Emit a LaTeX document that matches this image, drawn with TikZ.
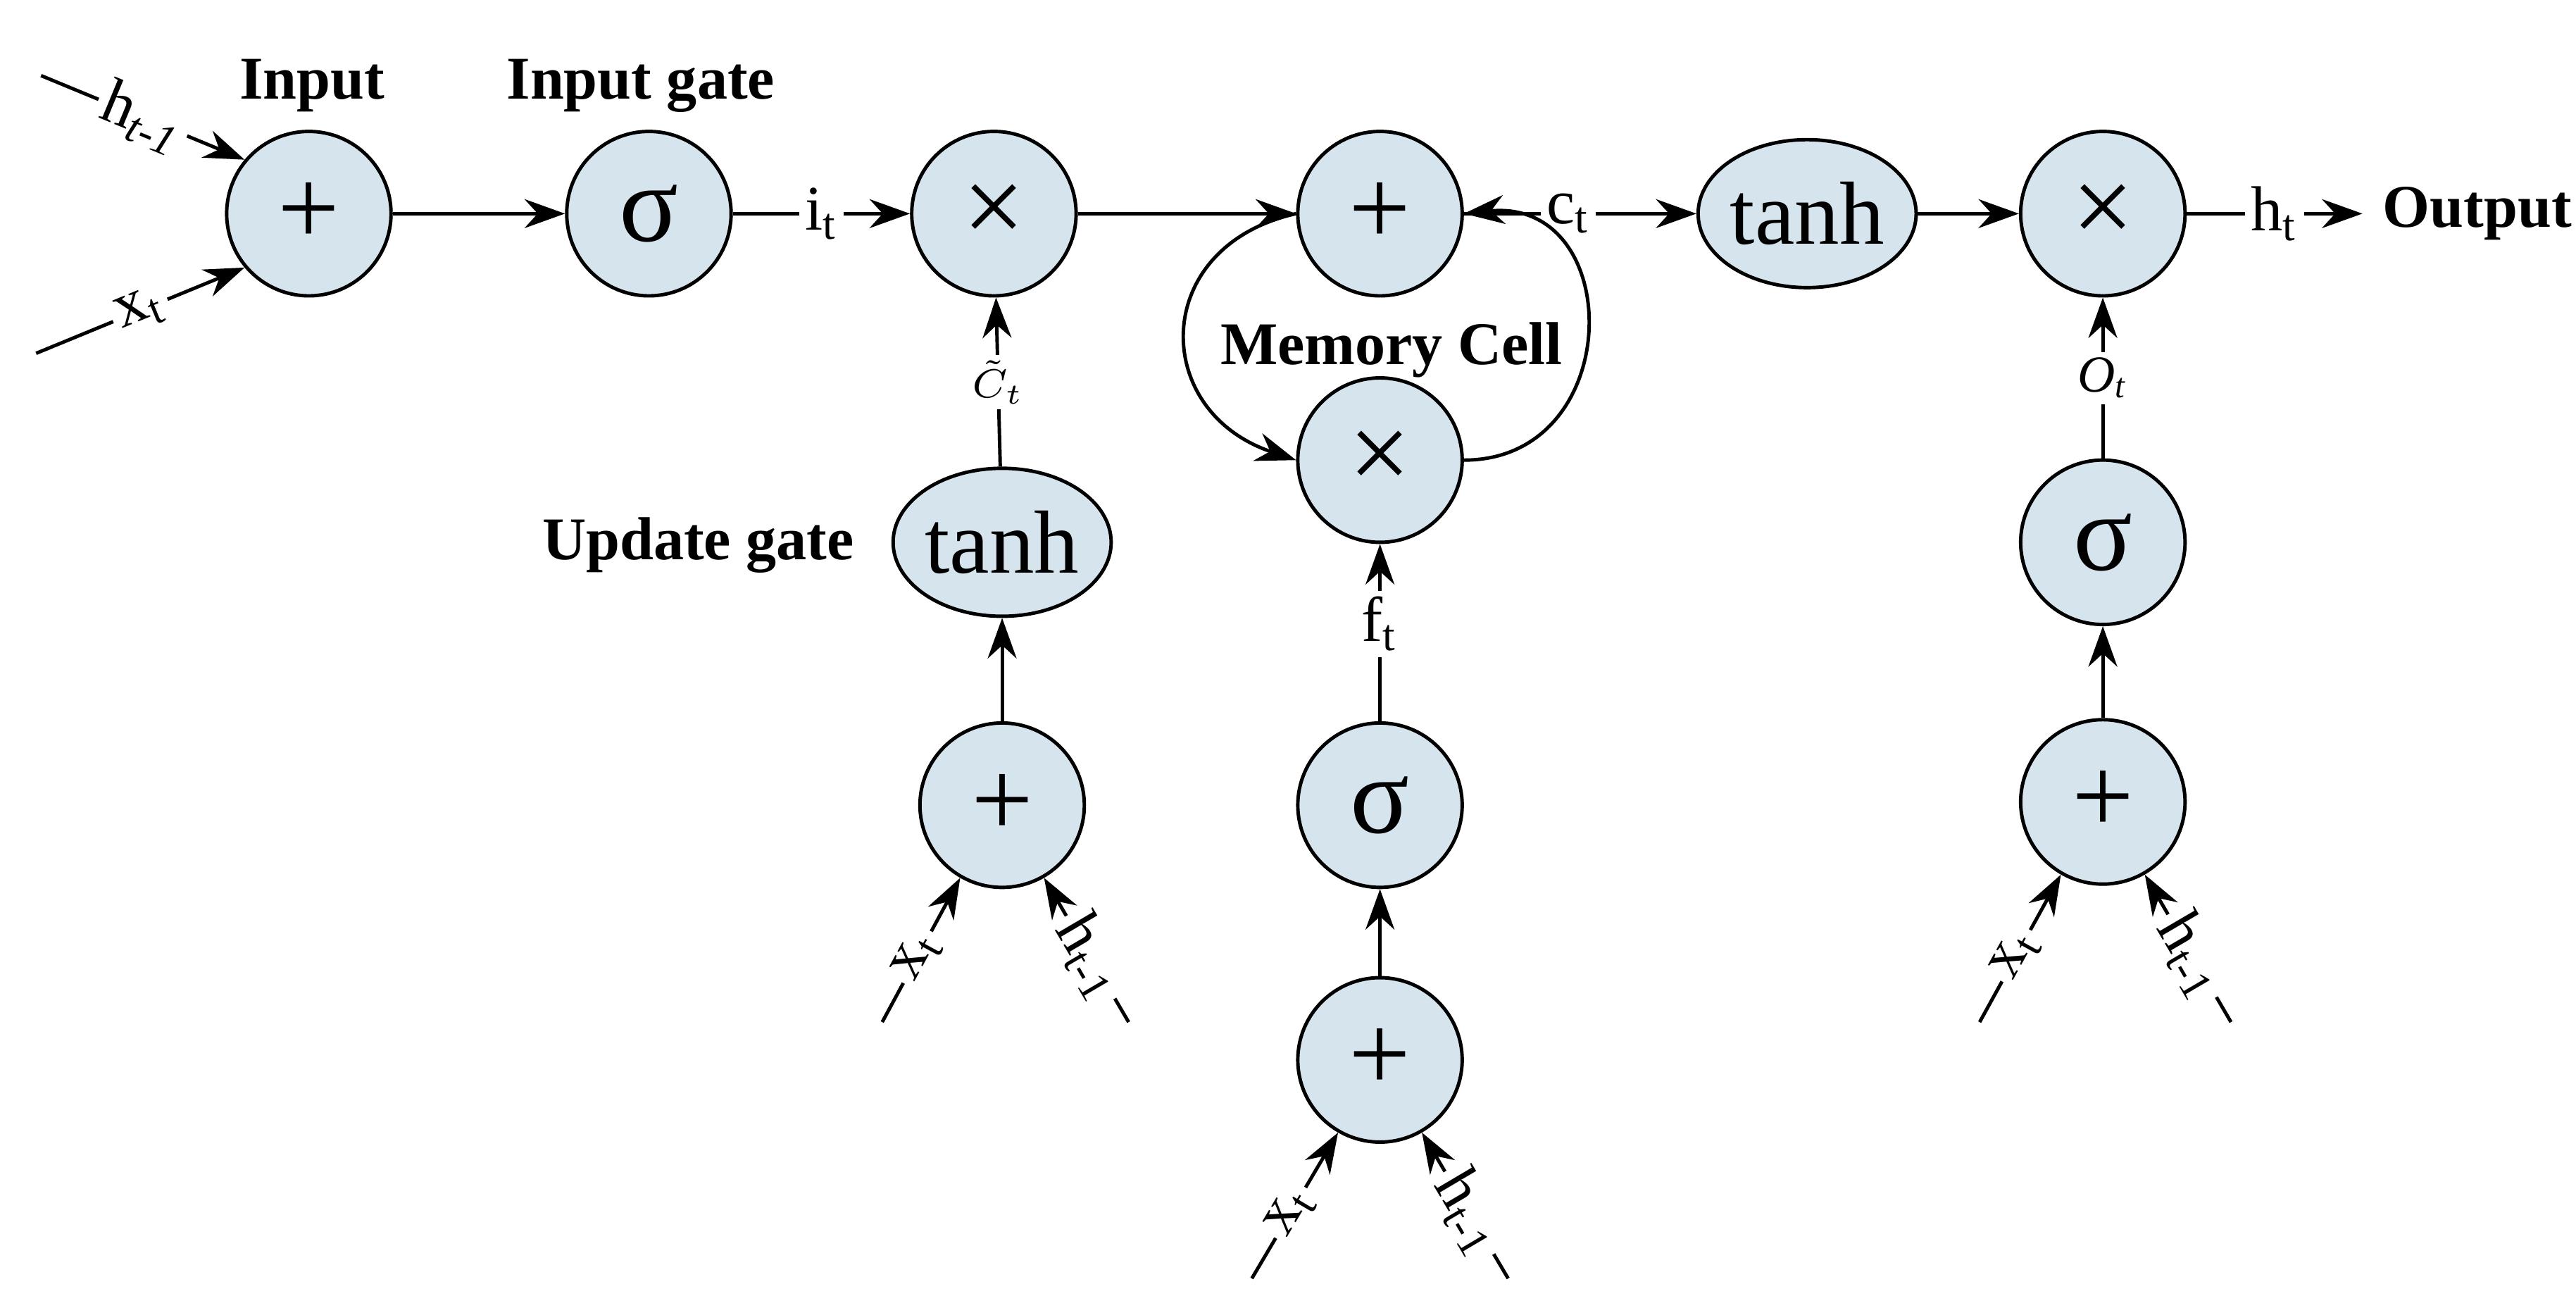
\documentclass[tikz,border=0pt]{standalone}
\usepackage{fontspec}
\setmainfont{Liberation Serif}
\usetikzlibrary{arrows.meta,shapes.geometric}
\begin{document}
\begin{tikzpicture}[x=0.01cm,y=-0.01cm,
  op/.style={circle,draw,fill=cellblue,minimum size=1cm,inner sep=0pt,font=\fontsize{19}{19}\selectfont,line width=0.6pt},
  el/.style={ellipse,draw,fill=cellblue,minimum width=1.26cm,minimum height=0.9cm,inner sep=0pt,font=\fontsize{15.5}{15.5}\selectfont,line width=0.6pt},
  ar/.style={-{Stealth[length=7pt,width=5pt]},line width=0.6pt},
  lab/.style={fill=white,inner sep=1pt,font=\fontsize{11}{11}\selectfont},
  ttl/.style={font=\fontsize{10.5}{10.5}\selectfont\bfseries}]
\definecolor{cellblue}{HTML}{D6E4EE}
\useasboundingbox (0,0) rectangle (1568,796);
% nodes
\node[op] (a1) at (188,130) {+};
\node[op] (ig) at (395,130) {σ};
\node[op] (m1) at (605,130) {×};
\node[op] (p2) at (840,130) {+};
\node[op] (m2) at (840,280) {×};
\node[el] (t1) at (1100,130) {tanh};
\node[op] (m3) at (1280,130) {×};
\node[el] (t2) at (610,330) {tanh};
\node[op] (a2) at (610,490) {+};
\node[op] (fg) at (840,490) {σ};
\node[op] (a3) at (840,645) {+};
\node[op] (og) at (1280,330) {σ};
\node[op] (a4) at (1280,488) {+};
% titles
\node[ttl] (tin) at (190,52) {Input};
\node[ttl] (tig) at (390,52) {Input gate};
\node[ttl] (tug) at (425,332) {Update gate};
\node[ttl] (tmc) at (847,213) {Memory Cell};
\node[ttl,anchor=west] (tout) at (1438,130) {Output};
% inputs of a1
\coordinate (h1) at (25,46);
\coordinate (x1) at (22,215);
\draw[ar] (h1) -- node[lab,sloped] {h\textsubscript{\textit{t-1}}} (a1.140);
\draw[ar] (x1) -- node[lab,sloped] {x\textsubscript{t}} (a1.220);
% bottom inputs
\foreach \n/\xs/\ys/\hs in {a2/537/622/687, a4/1205/622/1358}{
  \coordinate (xx\n) at (\xs,\ys);
  \coordinate (hh\n) at (\hs,\ys);
  \draw[ar] (xx\n) -- node[lab,sloped,pos=0.45] {x\textsubscript{t}} (\n.240);
  \draw[ar] (hh\n) -- node[lab,sloped,pos=0.45] {h\textsubscript{t-1}} (\n.300);
}
\coordinate (xxa3) at (762,778);
\coordinate (hha3) at (918,778);
\draw[ar] (xxa3) -- node[lab,sloped,pos=0.45] {x\textsubscript{t}} (a3.240);
\draw[ar] (hha3) -- node[lab,sloped,pos=0.45] {h\textsubscript{t-1}} (a3.300);
% main chain
\draw[ar] (a1) -- (ig);
\draw[ar] (ig) -- node[lab] {i\textsubscript{t}} (m1);
\draw[ar] (m1) -- (p2);
\draw[ar] (p2) -- node[lab,pos=0.45] {c\textsubscript{t}} (t1);
\draw[ar] (t1) -- (m3);
\draw[ar] (m3) -- node[lab] {h\textsubscript{t}} (tout);
% loop
\draw[ar] (p2.west) .. controls (700,150) and (700,250) .. (m2.west);
\draw[ar] (m2.east) .. controls (990,280) and (990,120) .. (p2.east);
% verticals
\draw[ar] (t2) -- node[lab,font=\fontsize{7}{7}\selectfont] {$\tilde{C}_t$} (m1);
\draw[ar] (a2) -- (t2);
\draw[ar] (fg) -- node[lab,pos=0.55] {f\textsubscript{t}} (m2);
\draw[ar] (a3) -- (fg);
\draw[ar] (og) -- node[lab,font=\fontsize{9}{9}\selectfont] {\textit{O\textsubscript{t}}} (m3);
\draw[ar] (a4) -- (og);
\end{tikzpicture}
\end{document}
